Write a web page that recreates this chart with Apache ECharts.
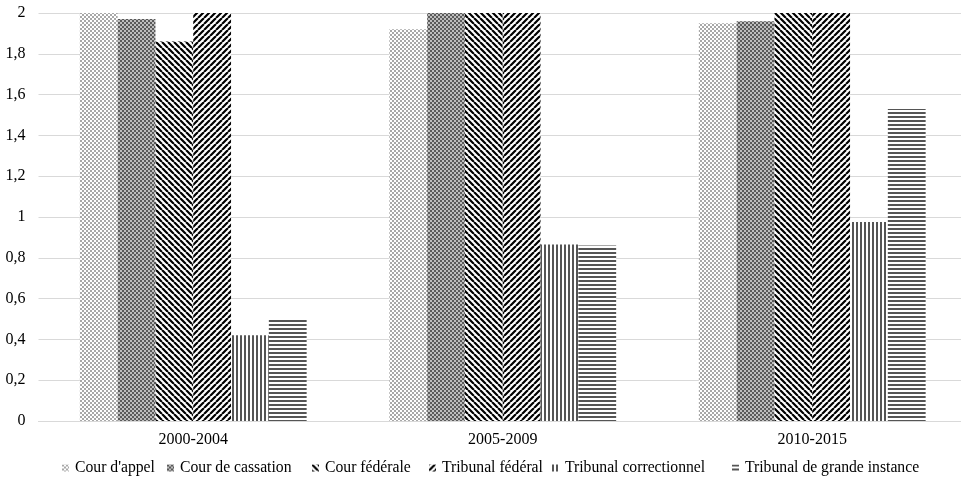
<!DOCTYPE html>
<html><head><meta charset="utf-8">
<script src="https://cdn.jsdelivr.net/npm/echarts@6/dist/echarts.min.js"></script>
<style>html,body{margin:0;padding:0;background:#fff;overflow:hidden;width:961px;height:480px}#c{width:967px;height:480px}</style>
</head><body><div id="c"></div>
<script>
const categories = ['2000-2004', '2005-2009', '2010-2015'];
const seriesNames = ["Cour d'appel", 'Cour de cassation', 'Cour fédérale', 'Tribunal fédéral', 'Tribunal correctionnel', 'Tribunal de grande instance'];
const courAppel = [2.0, 1.92, 1.95];
const courCassation = [1.97, 2.2, 1.96];
const courFederale = [1.86, 2.6, 2.8];
const tribunalFederal = [2.4, 2.9, 3.1];
const tribunalCorrectionnel = [0.42, 0.865, 0.975];
const tribunalGrandeInstance = [0.50, 0.86, 1.53];
const yTicks = [0, 0.2, 0.4, 0.6, 0.8, 1, 1.2, 1.4, 1.6, 1.8, 2];

function makeTile(w, h, draw) {
  const c = document.createElement('canvas');
  c.width = w; c.height = h;
  const g = c.getContext('2d');
  g.fillStyle = '#fff'; g.fillRect(0, 0, w, h);
  draw(g);
  return { image: c, repeat: 'repeat' };
}
const patAppel = makeTile(4, 4, g => {
  g.fillStyle = '#a8a8a8';
  g.fillRect(0, 0, 2, 2); g.fillRect(2, 2, 2, 2);
});
const patCassation = makeTile(4, 4, g => {
  g.fillStyle = '#bdbdbd'; g.fillRect(0, 0, 4, 4);
  g.fillStyle = '#5a5a5a';
  g.fillRect(0, 0, 2, 2); g.fillRect(2, 2, 2, 2);
});
function diag(dir) {
  return makeTile(6, 6, g => {
    g.strokeStyle = '#000'; g.lineWidth = 2.2;
    g.beginPath();
    for (let k = -2; k <= 2; k++) {
      if (dir > 0) { g.moveTo(k * 6, 0); g.lineTo(k * 6 + 6, 6); }
      else { g.moveTo(k * 6 + 6, 0); g.lineTo(k * 6, 6); }
    }
    g.stroke();
  });
}
const patFederale = diag(1);
const patTribFed = diag(-1);
const patCorr = makeTile(4, 4, g => { g.fillStyle = '#555'; g.fillRect(0, 0, 2, 4); });
const patTGI = makeTile(4, 4, g => { g.fillStyle = '#555'; g.fillRect(0, 0, 4, 2); });

const values = [courAppel, courCassation, courFederale, tribunalFederal, tribunalCorrectionnel, tribunalGrandeInstance];
const patterns = [patAppel, patCassation, patFederale, patTribFed, patCorr, patTGI];
const legendLeft = [62, 167, 312, 429, 552, 732];

const font = 'Liberation Serif';
const chart = echarts.init(document.getElementById('c'), null, { renderer: 'canvas' });
chart.setOption({
  animation: false,
  textStyle: { fontFamily: font },
  grid: { left: 38.5, top: 13, right: 0, bottom: 59, containLabel: false },
  xAxis: {
    type: 'category', data: categories,
    axisLine: { lineStyle: { color: '#d9d9d9', width: 1 } },
    axisTick: { show: false },
    axisLabel: { color: '#000', fontFamily: font, fontSize: 16, margin: 11 }
  },
  yAxis: {
    type: 'value', min: 0, max: 2, interval: 0.2,
    axisLine: { show: false }, axisTick: { show: false },
    splitLine: { lineStyle: { color: '#d9d9d9', width: 1 } },
    axisLabel: {
      color: '#000', fontFamily: font, fontSize: 16, margin: 13,
      formatter: v => {
        const t = yTicks.find(x => Math.abs(x - v) < 1e-9);
        return String(t !== undefined ? t : +v.toFixed(1)).replace('.', ',');
      }
    }
  },
  legend: seriesNames.map((n, i) => ({
    top: 460, left: legendLeft[i], itemWidth: 7, itemHeight: 7, padding: 0,
    icon: 'rect',
    textStyle: { color: '#000', fontFamily: font, fontSize: 15.7, padding: [0, 0, 0, 1] },
    data: [n]
  })),
  series: seriesNames.map((n, i) => ({
    name: n, type: 'bar', data: values[i], clip: true,
    barWidth: 37.8, barGap: '0%',
    itemStyle: { color: patterns[i] }
  }))
});
</script></body></html>
